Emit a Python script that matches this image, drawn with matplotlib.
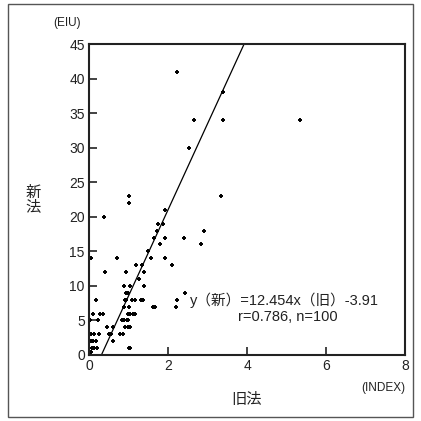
import matplotlib
matplotlib.use("Agg")
import matplotlib.pyplot as plt
from matplotlib.patches import Rectangle
import numpy as np

plt.rcParams['font.family'] = ['Liberation Sans', 'Noto Sans CJK JP', 'DejaVu Sans']

old_index = [2.22, 3.38, 2.65, 3.40, 5.35, 2.53, 1.00, 3.34, 1.02, 0.38,
             1.92, 1.75, 1.87, 1.71, 2.92, 1.65, 1.92, 2.41, 1.80, 2.83,
             1.50, 0.05, 0.70, 1.56, 1.92, 2.09, 1.19, 1.33, 0.41, 0.94,
             1.40, 1.27, 0.89, 1.03, 1.39, 0.94, 0.98, 2.42, 0.17, 0.91,
             1.08, 1.16, 1.31, 1.37, 2.22, 0.89, 1.63, 1.68, 2.20, 0.11,
             0.28, 0.36, 0.98, 1.04, 1.12, 1.16, 0.03, 0.22, 0.83, 0.89,
             0.98, 0.45, 0.62, 0.91, 0.98, 1.04, 0.01, 0.13, 0.25, 0.51,
             0.55, 0.78, 0.85, 0.01, 0.10, 0.17, 0.62, 0.01, 0.08, 0.20,
             1.00, 1.04, 0.01, 0.05, 0.12, 0.05, 0.93, 1.00, 0.95, 0.06]
new_eiu = [41, 38, 34, 34, 34, 30, 23, 23, 22, 20,
           21, 19, 19, 18, 18, 17, 17, 17, 16, 16,
           15, 14, 14, 14, 14, 13, 13, 13, 12, 12,
           12, 11, 10, 10, 10, 9, 9, 9, 8, 8,
           8, 8, 8, 8, 8, 7, 7, 7, 7, 6,
           6, 6, 6, 6, 6, 6, 5, 5, 5, 5,
           5, 4, 4, 4, 4, 4, 3, 3, 3, 3,
           3, 3, 3, 2, 2, 2, 2, 1, 1, 1,
           1, 1, 0, 2, 1, 3, 8, 7, 5, 0.5]

slope, intercept = 12.454, -3.91
x_ticks = [0, 2, 4, 6, 8]
y_ticks = [0, 5, 10, 15, 20, 25, 30, 35, 40, 45]

fig = plt.figure(figsize=(4.21, 4.21), dpi=100)
ax = fig.add_axes([89/421, 1-355/421, 316/421, 311/421])

ax.plot(old_index, new_eiu, linestyle='none', marker='+', markersize=3.2,
        markeredgewidth=1.4, color='black')

xl = np.array([-intercept/slope, (45 - intercept)/slope])
ax.plot(xl, slope*xl + intercept, color='black', linewidth=0.9)

ax.set_xlim(0, 8)
ax.set_ylim(0, 45)
ax.set_xticks(x_ticks)
ax.set_yticks(y_ticks)
ax.tick_params(direction='in', length=6, width=1.2, labelsize=10,
               colors='#222222', pad=3)
for s in ax.spines.values():
    s.set_linewidth(1.5)
    s.set_color('#222222')

ax.text(2.56, 7.3, 'y（新）=12.454x（旧）-3.91', fontsize=10.5, color='#222222',
        ha='left', va='baseline')
ax.text(5.04, 4.9, 'r=0.786, n=100', fontsize=10.5, color='#222222',
        ha='center', va='baseline')

fig.text(67/421, 1-23/421, '(EIU)', fontsize=8.5, ha='center', va='center', color='#222222')
fig.text(33/421, 1-200/421, '新\n法', fontsize=11, ha='center', va='center',
         color='#222222', linespacing=1.0)
fig.text(247/421, 1-400/421, '旧法', fontsize=11, ha='center', va='center', color='#222222')
fig.text(383/421, 1-388/421, '(INDEX)', fontsize=8.5, ha='center', va='center', color='#222222')

fig.patches.append(Rectangle((8/421, 4/421), 405/421, 413/421, transform=fig.transFigure,
                             fill=False, edgecolor='#555555', linewidth=1.0))

fig.savefig('out.png', dpi=100)
